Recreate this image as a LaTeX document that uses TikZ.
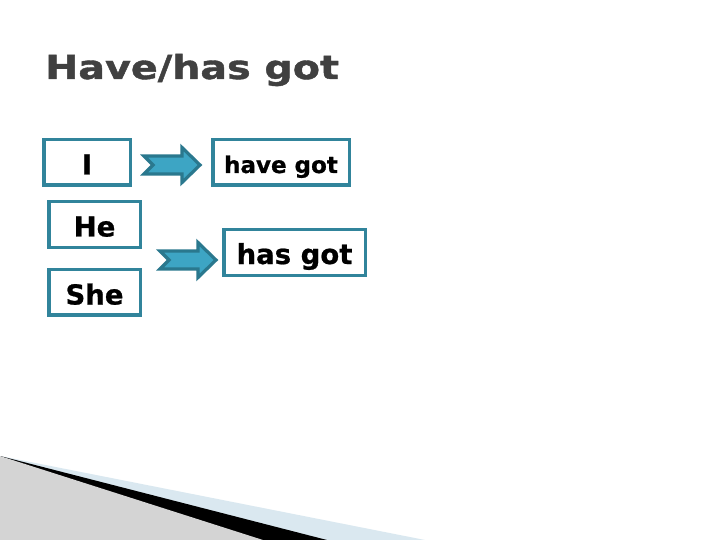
\documentclass[tikz,border=0pt]{standalone}
\usepackage{fontspec}
\setmainfont{DejaVu Sans}
\newfontfamily\heavyface[FakeBold=0.8]{DejaVu Sans Bold}
\newfontfamily\titleface[FakeBold=1.2]{DejaVu Sans Bold}
\usetikzlibrary{positioning}
\definecolor{boxteal}{RGB}{49,132,155}
\definecolor{arrowfill}{RGB}{61,165,196}
\definecolor{arrowedge}{RGB}{42,120,142}
\definecolor{titlegray}{RGB}{64,64,64}
\definecolor{paleblue}{RGB}{218,232,240}
\definecolor{hatchgray}{RGB}{212,212,212}

\begin{document}
\begin{tikzpicture}[x=1pt, y=-1pt,
  wordbox/.style={draw=boxteal, line width=3.5pt, fill=white, inner sep=0pt,
    minimum height=45.5pt, text height=24pt, text depth=0pt,
    font=\heavyface\fontsize{27.5}{30}\selectfont},
  blockarrow/.pic={
    \draw[draw=arrowedge, fill=arrowfill, line width=3.2pt, line join=miter]
      (0,-9) -- (38,-9) -- (38,-17.5) -- (56,0) -- (38,17.5) -- (38,9)
      -- (0,9) -- (9,0) -- cycle;
  }]
  \useasboundingbox[fill=white] (0,0) rectangle (720,540);

  % Corner wedges at the bottom left
  \fill[paleblue] (0,456) -- (425,540) -- (0,540) -- cycle;
  \fill[black] (0,456) -- (327,540) -- (0,540) -- cycle;
  \fill[hatchgray] (0,456) -- (263,540) -- (0,540) -- cycle;

  % Title
  \node[anchor=base west, inner sep=0pt, text=titlegray] (title) at (45,79)
    {\scalebox{1.2}[1]{\titleface\fontsize{33}{40}\selectfont Have/has got}};

  % Pronouns and verb forms
  \node[wordbox, minimum width=86.5pt] (i) at (87,162.5) {I};
  \node[wordbox, minimum width=91.5pt] (he) at (94.5,224.5) {He};
  \node[wordbox, minimum width=91.5pt, text height=25pt] (she) at (94.5,292) {She};
  \node[wordbox, minimum width=136.5pt, text height=21pt,
    font=\heavyface\fontsize{23}{26}\selectfont] (have) at (281,162.5) {have got};
  \node[wordbox, minimum width=141.5pt, text height=23pt] (has) at (294.5,252.5) {has got};

  % Block arrows
  \pic at (144,165) {blockarrow};
  \pic at (160,260) {blockarrow};
\end{tikzpicture}
\end{document}
